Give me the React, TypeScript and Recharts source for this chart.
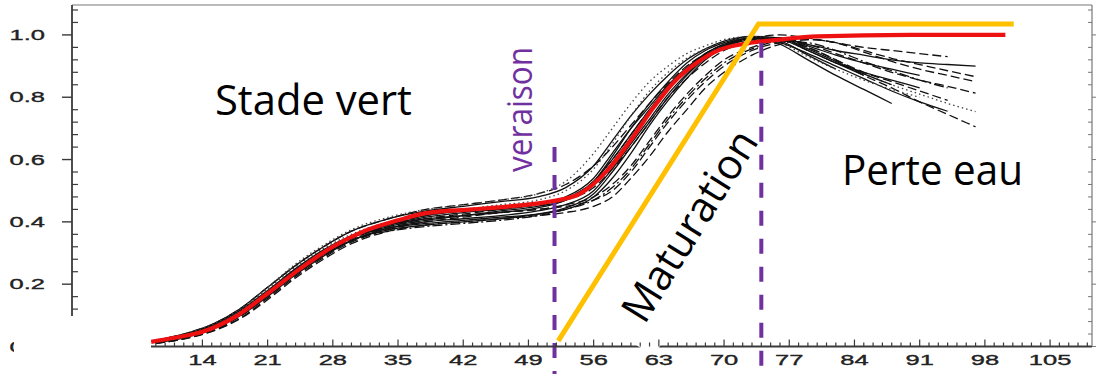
import { LineChart, Line, XAxis, YAxis, ReferenceLine, ReferenceDot } from "recharts"

// sampling days of the individual berry curves
const days = [9, 12, 15, 18, 21, 24, 27, 30, 34, 38, 42, 46, 50, 53, 56, 58, 60, 62, 64, 66, 68, 70, 73, 76, 79, 82, 85, 88, 91, 94, 97]

const berry01 = [0.02, 0.04, 0.07, 0.12, 0.19, 0.26, 0.32, 0.37, 0.41, 0.435, 0.45, 0.465, 0.48, 0.51, 0.58, 0.66, 0.74, 0.81, 0.87, 0.92, 0.955, 0.98, 0.995, 0.99, 0.97, 0.95, 0.935, 0.92, 0.91, 0.905, 0.9]
const berry02 = [0.01, 0.025, 0.05, 0.095, 0.16, 0.23, 0.29, 0.34, 0.38, 0.405, 0.42, 0.43, 0.44, 0.45, 0.47, 0.5, 0.56, 0.64, 0.72, 0.79, 0.85, 0.9, 0.95, 0.975, 0.985, 0.975, 0.95, 0.925, 0.905, 0.885, 0.866]
const berry03 = [0.015, 0.03, 0.055, 0.1, 0.165, 0.235, 0.295, 0.345, 0.39, 0.42, 0.435, 0.445, 0.455, 0.47, 0.51, 0.57, 0.64, 0.72, 0.8, 0.86, 0.91, 0.95, 0.98, 0.99, 0.97, 0.94, 0.91, 0.88, 0.855, 0.835, 0.813]
const berry04 = [0.018, 0.035, 0.065, 0.115, 0.185, 0.255, 0.315, 0.36, 0.4, 0.425, 0.44, 0.455, 0.47, 0.5, 0.57, 0.65, 0.74, 0.82, 0.88, 0.925, 0.955, 0.975, 0.99, 0.985, 0.95, 0.91, 0.875, 0.84, 0.81, 0.78, 0.754]
const berry05 = [0.012, 0.028, 0.055, 0.1, 0.165, 0.235, 0.295, 0.345, 0.385, 0.41, 0.425, 0.44, 0.455, 0.475, 0.53, 0.6, 0.68, 0.76, 0.83, 0.89, 0.935, 0.965, 0.985, 0.99, 0.96, 0.92, 0.87, 0.83, 0.785, 0.745, 0.705]
const berry06 = [0.015, 0.032, 0.06, 0.105, 0.17, 0.245, 0.305, 0.35, 0.38, 0.395, 0.405, 0.415, 0.425, 0.44, 0.48, 0.54, 0.62, 0.71, 0.79, 0.86, 0.92, 0.96, 0.99, 0.975, 0.94, 0.9, 0.86, 0.82, 0.785, 0.755]
const berry07 = [0.02, 0.038, 0.068, 0.115, 0.18, 0.25, 0.31, 0.355, 0.39, 0.41, 0.42, 0.43, 0.445, 0.47, 0.53, 0.61, 0.7, 0.78, 0.85, 0.91, 0.95, 0.975, 0.995, 0.97, 0.92, 0.87, 0.825, 0.78]
const berry08 = [0.014, 0.03, 0.058, 0.1, 0.165, 0.235, 0.295, 0.34, 0.375, 0.39, 0.4, 0.41, 0.425, 0.445, 0.49, 0.56, 0.64, 0.72, 0.8, 0.87, 0.925, 0.96, 0.985, 0.99, 0.95, 0.91, 0.88, 0.855, 0.83]
const berry09 = [0.01, 0.025, 0.05, 0.09, 0.155, 0.225, 0.285, 0.335, 0.375, 0.4, 0.415, 0.43, 0.44, 0.455, 0.48, 0.52, 0.58, 0.66, 0.74, 0.81, 0.87, 0.92, 0.96, 0.985, 0.96, 0.92, 0.88, 0.85, 0.82, 0.79]
const berry10 = [0.02, 0.04, 0.07, 0.12, 0.19, 0.26, 0.32, 0.37, 0.41, 0.44, 0.455, 0.47, 0.49, 0.52, 0.58, 0.64, 0.71, 0.78, 0.845, 0.9, 0.94, 0.97, 0.99, 1.0, 0.99, 0.975, 0.96, 0.95, 0.94, 0.93]
const berry11 = [0.016, 0.034, 0.062, 0.108, 0.175, 0.245, 0.305, 0.35, 0.385, 0.405, 0.42, 0.435, 0.45, 0.47, 0.52, 0.59, 0.67, 0.75, 0.83, 0.89, 0.935, 0.965, 0.99, 0.985, 0.95, 0.91, 0.87]
const berry12 = [0.018, 0.036, 0.065, 0.11, 0.175, 0.245, 0.305, 0.355, 0.395, 0.42, 0.435, 0.445, 0.46, 0.48, 0.54, 0.62, 0.7, 0.77, 0.84, 0.895, 0.94, 0.97, 0.99, 0.98, 0.935, 0.89]
const berry13 = [0.012, 0.028, 0.054, 0.098, 0.16, 0.23, 0.29, 0.34, 0.38, 0.4, 0.41, 0.42, 0.435, 0.455, 0.5, 0.57, 0.65, 0.73, 0.81, 0.875, 0.93, 0.965, 0.99, 0.99, 0.955, 0.915, 0.875, 0.84]
const berry14 = [0.02, 0.04, 0.07, 0.12, 0.19, 0.265, 0.325, 0.375, 0.415, 0.44, 0.455, 0.47, 0.49, 0.53, 0.62, 0.7, 0.78, 0.85, 0.9, 0.94, 0.965, 0.985, 0.995, 0.975, 0.93, 0.89, 0.855, 0.825, 0.8]
const berry15 = [0.01, 0.024, 0.048, 0.088, 0.15, 0.22, 0.28, 0.33, 0.37, 0.39, 0.4, 0.41, 0.42, 0.43, 0.45, 0.48, 0.54, 0.61, 0.69, 0.76, 0.83, 0.88, 0.935, 0.97, 0.985, 0.975, 0.945, 0.915, 0.89, 0.87, 0.85]
const berry16 = [0.016, 0.033, 0.06, 0.105, 0.17, 0.24, 0.3, 0.35, 0.39, 0.415, 0.43, 0.44, 0.455, 0.475, 0.53, 0.6, 0.68, 0.76, 0.835, 0.89, 0.94, 0.97, 0.99, 0.99, 0.965, 0.935, 0.91, 0.89, 0.87]
const berry17 = [0.014, 0.03, 0.057, 0.1, 0.165, 0.235, 0.295, 0.34, 0.37, 0.385, 0.395, 0.405, 0.42, 0.44, 0.47, 0.51, 0.57, 0.65, 0.73, 0.8, 0.86, 0.91, 0.955, 0.98, 0.975, 0.95, 0.915, 0.885, 0.855, 0.83]

// fitted mean curve (red)
const meanDays = [8.5, 11, 14, 17.5, 21, 24.5, 28, 31.5, 35, 38, 43, 47, 51.5, 54.5, 57.5, 60, 62.5, 64.5, 67, 69.5, 72.5, 76, 80, 90, 100.2]
const meanValues = [0.015, 0.028, 0.047, 0.095, 0.17, 0.25, 0.32, 0.372, 0.405, 0.428, 0.44, 0.45, 0.466, 0.49, 0.566, 0.663, 0.77, 0.845, 0.909, 0.952, 0.973, 0.985, 0.995, 1.0, 1.0]

// maturation guide (orange)
const guideDays = [52.2, 73.7, 101.1]
const guideValues = [0.018, 1.035, 1.035]

const veraisonDay = 51.8
const endMaturationDay = 74

const xLabels = [7, 14, 21, 28, 35, 42, 49, 56, 63, 70, 77, 84, 91, 98, 105]
const xTickDays = Array.from({ length: 110 }, (_, i) => i)
const yLabels = [0, 0.2, 0.4, 0.6, 0.8, 1.0]
const yTickValues = Array.from({ length: 28 }, (_, i) => +(i * 0.04).toFixed(2))

const SOLID = undefined
const DASH = "9 4"
const DOT = "1.5 3"
const DASHDOT = "10 3 2 3"

const berries = [
  { id: "b01", values: berry01, dash: SOLID },
  { id: "b02", values: berry02, dash: DASH },
  { id: "b03", values: berry03, dash: DASH },
  { id: "b04", values: berry04, dash: DOT },
  { id: "b05", values: berry05, dash: DASH },
  { id: "b06", values: berry06, dash: SOLID },
  { id: "b07", values: berry07, dash: SOLID },
  { id: "b08", values: berry08, dash: SOLID },
  { id: "b09", values: berry09, dash: DASH },
  { id: "b10", values: berry10, dash: DASH },
  { id: "b11", values: berry11, dash: SOLID },
  { id: "b12", values: berry12, dash: SOLID },
  { id: "b13", values: berry13, dash: SOLID },
  { id: "b14", values: berry14, dash: DOT },
  { id: "b15", values: berry15, dash: DASH },
  { id: "b16", values: berry16, dash: SOLID },
  { id: "b17", values: berry17, dash: DASHDOT },
]

const toPoints = (xs: number[], ys: number[]) => ys.map((v, i) => ({ d: xs[i], v }))

const AXIS = "#3a3a3a"
const FRAME = "#777"
const PURPLE = "#7030A0"
const tickFont = "'Liberation Sans', Arial, sans-serif"
const textFont = "'Open Sans', sans-serif"

const isMajorY = (v: number) => yLabels.some((l) => Math.abs(l - v) < 1e-6)

function LeftTick(props: any) {
  const { x, y, payload } = props
  const v = payload.value
  if (isMajorY(v)) {
    return (
      <g>
        <line x1={x - 10} x2={x} y1={y} y2={y} stroke={AXIS} strokeWidth={1.4} />
        <text
          transform={`translate(${x - 27},${y + 5}) scale(1.7,1)`}
          textAnchor="end"
          fontFamily={tickFont}
          fontSize={15}
          fill="#222"
          stroke="#222"
          strokeWidth={0.35}
        >
          {v.toFixed(1)}
        </text>
      </g>
    )
  }
  return <line x1={x} x2={x + 6} y1={y} y2={y} stroke={AXIS} strokeWidth={1.2} />
}

function RightTick(props: any) {
  const { x, y, payload } = props
  const major = isMajorY(payload.value)
  return <line x1={major ? x : x - 4} x2={major ? x + 4 : x} y1={y} y2={y} stroke={FRAME} strokeWidth={1} />
}

function BottomTick(props: any) {
  const { x, y, payload } = props
  const v = payload.value
  const major = v % 7 === 0
  return (
    <g>
      <line x1={x} x2={x} y1={y} y2={y - (major ? 7 : 4)} stroke={AXIS} strokeWidth={1.2} />
      {major && xLabels.includes(v) && (
        <text
          transform={`translate(${x},${y + 18.5}) scale(1.7,1)`}
          textAnchor="middle"
          fontFamily={tickFont}
          fontSize={15}
          fill="#222"
          stroke="#222"
          strokeWidth={0.35}
        >
          {v}
        </text>
      )}
    </g>
  )
}

function TopTick(props: any) {
  const { x, y, payload } = props
  const major = payload.value % 7 === 0
  return <line x1={x} x2={x} y1={y} y2={y + (major ? 6 : 4)} stroke={FRAME} strokeWidth={1} />
}

// annotation text anchored on a ReferenceDot
function annot(text: string, opts: { size: number; length: number; angle?: number; anchor?: string; fill?: string; box?: boolean }) {
  return (props: any) => {
    const vb = props.viewBox
    if (!vb) return null
    const angle = opts.angle ?? 0
    return (
      <g transform={`translate(${vb.x},${vb.y}) rotate(${angle})`}>
        {opts.box && <rect x={-opts.length / 2 - 21} y={0} width={60} height={24} fill="#fff" />}
        <text
          x={0}
          y={0}
          textAnchor={opts.anchor ?? "start"}
          fontFamily={textFont}
          fontSize={opts.size}
          fill={opts.fill ?? "#000"}
          textLength={opts.length}
          lengthAdjust="spacingAndGlyphs"
        >
          {text}
        </text>
      </g>
    )
  }
}

export default function App() {
  return (
    <div style={{ position: "absolute", left: 0, top: 0, width: 1097, height: 374, background: "#fff" }}>
      <LineChart width={1097} height={374} margin={{ top: 0, right: 0, bottom: 0, left: 0 }}>
        <XAxis
          type="number"
          dataKey="d"
          domain={[0, 109.5]}
          allowDataOverflow
          ticks={xTickDays}
          interval={0}
          height={27.5}
          tickSize={0}
          tickMargin={0}
          tickLine={false}
          tick={<BottomTick />}
          axisLine={{ stroke: AXIS, strokeWidth: 1.8 }}
        />
        <XAxis
          xAxisId="t"
          orientation="top"
          type="number"
          domain={[0, 109.5]}
          allowDataOverflow
          ticks={xTickDays}
          interval={0}
          height={5}
          tickSize={0}
          tickMargin={0}
          tickLine={false}
          tick={<TopTick />}
          axisLine={{ stroke: FRAME, strokeWidth: 1.2 }}
        />
        <YAxis
          type="number"
          domain={[0, 1.096]}
          allowDataOverflow
          ticks={yTickValues}
          interval={0}
          width={72}
          tickSize={0}
          tickMargin={0}
          tickLine={false}
          tick={<LeftTick />}
          axisLine={{ stroke: AXIS, strokeWidth: 1.8 }}
        />
        <YAxis
          yAxisId="r"
          orientation="right"
          type="number"
          domain={[0, 1.096]}
          allowDataOverflow
          ticks={yTickValues}
          interval={0}
          width={5}
          tickSize={0}
          tickMargin={0}
          tickLine={false}
          tick={<RightTick />}
          axisLine={{ stroke: FRAME, strokeWidth: 1.2 }}
        />

        {berries.map((b) => (
          <Line
            key={b.id}
            data={toPoints(days, b.values)}
            dataKey="v"
            type="monotone"
            stroke={b.dash === DOT ? "#444" : "#111"}
            strokeWidth={1.3}
            strokeDasharray={b.dash}
            dot={false}
            activeDot={false}
            isAnimationActive={false}
          />
        ))}

        <Line
          data={toPoints(meanDays, meanValues)}
          dataKey="v"
          type="monotone"
          stroke="#ee1111"
          strokeWidth={4.2}
          dot={false}
          activeDot={false}
          isAnimationActive={false}
        />
        <Line
          data={toPoints(guideDays, guideValues)}
          dataKey="v"
          type="linear"
          stroke="#FFC000"
          strokeWidth={5}
          dot={false}
          activeDot={false}
          isAnimationActive={false}
        />

        <ReferenceLine
          segment={[{ x: veraisonDay, y: 0.64 }, { x: veraisonDay, y: -0.09 }]}
          stroke={PURPLE}
          strokeWidth={4}
          strokeDasharray="15 13"
          ifOverflow="visible"
        />
        <ReferenceLine
          segment={[{ x: endMaturationDay, y: 0.975 }, { x: endMaturationDay, y: -0.09 }]}
          stroke={PURPLE}
          strokeWidth={4}
          strokeDasharray="15 13"
          ifOverflow="visible"
        />

        <ReferenceDot x={15.35} y={0.743} r={0} ifOverflow="visible" label={annot("Stade vert", { size: 42, length: 197 })} />
        <ReferenceDot x={82.66} y={0.518} r={0} ifOverflow="visible" label={annot("Perte eau", { size: 42, length: 181 })} />
        <ReferenceDot
          x={49.38}
          y={0.761}
          r={0}
          ifOverflow="visible"
          label={annot("veraison", { size: 34, length: 125, angle: -90, anchor: "middle", fill: PURPLE })}
        />
        <ReferenceDot
          x={67.63}
          y={0.363}
          r={0}
          ifOverflow="visible"
          label={annot("Maturation", { size: 42, length: 217, angle: -58, anchor: "middle", box: true })}
        />
      </LineChart>
      {/* white patch over the lower-left corner, as in the source figure */}
      <div style={{ position: "absolute", left: 14, top: 316, width: 137, height: 58, background: "#fff" }} />
    </div>
  )
}
